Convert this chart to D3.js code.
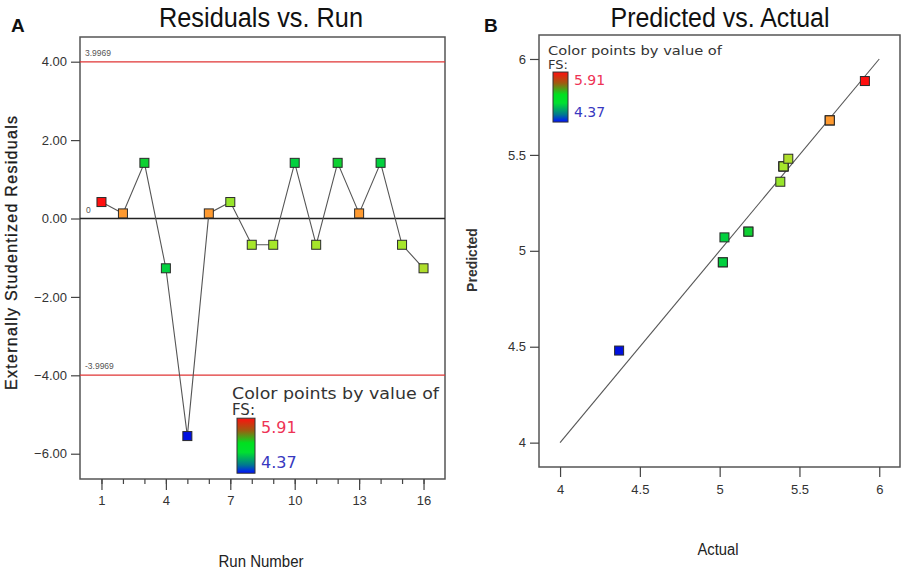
<!DOCTYPE html>
<html>
<head>
<meta charset="utf-8">
<script src="https://cdn.jsdelivr.net/npm/d3@7"></script>
<style>
  body { margin: 0; background: #fff; }
  svg { display: block; font-family: "Liberation Sans", Arial, sans-serif; }
  .tick text { fill: #333; font-size: 13px; }
  .axis path { display: none; }
  .axis line { stroke: #444; stroke-width: 1.2; }
  .legend text { font-family: "DejaVu Sans", Verdana, sans-serif; }
</style>
</head>
<body>
<svg id="chart" width="906" height="573"></svg>
<script>
// Data
const runs       = [1, 2, 3, 4, 5, 6, 7, 8, 9, 10, 11, 12, 13, 14, 15, 16];
const residuals  = [0.42, 0.13, 1.42, -1.27, -5.55, 0.13, 0.42, -0.67, -0.67, 1.42, -0.67, 1.42, 0.13, 1.42, -0.67, -1.27];
const actual     = [5.91, 5.69, 5.18, 5.03, 4.37, 5.69, 5.38, 5.40, 5.40, 5.02, 5.40, 5.18, 5.69, 5.02, 5.40, 5.43];
const predicted  = [5.885, 5.68, 5.10, 5.07, 4.48, 5.68, 5.36, 5.44, 5.44, 4.94, 5.44, 5.10, 5.68, 4.94, 5.44, 5.48];
const limitValue = 3.9969;
const runTicks   = [1, 4, 7, 10, 13, 16];
const residTicks = [4, 2, 0, -2, -4, -6];
const avTicks    = [4, 4.5, 5, 5.5, 6];
const fsRange    = [4.37, 5.91];

const svg = d3.select('#chart');
const narrow = '"Liberation Sans Narrow", "Arial Narrow", sans-serif';

// Colour of a point by FS value
const colorScale = d3.scaleLinear()
    .domain([4.37, 5.0, 5.2, 5.4, 5.69, 5.91])
    .range(['#0010e0', '#00d040', '#10d030', '#a6e62a', '#ff9a30', '#ff1010']);

// Legend gradient
const defs = svg.append('defs');
const grad = defs.append('linearGradient')
    .attr('id', 'fsgrad').attr('x1', 0).attr('y1', 0).attr('x2', 0).attr('y2', 1);
[[0, '#ff1010'], [0.22, '#a05a10'], [0.45, '#00e020'], [0.62, '#00e030'], [0.85, '#007890'], [1, '#0010ff']]
    .forEach(s => grad.append('stop').attr('offset', s[0]).attr('stop-color', s[1]));

function drawLegend(parent, x, y, fontSize, textW, barW, barH, numSize) {
    const g = parent.append('g').attr('class', 'legend');
    g.append('text').attr('x', x).attr('y', y)
        .attr('font-size', fontSize).attr('fill', '#333')
        .attr('textLength', textW).attr('lengthAdjust', 'spacingAndGlyphs')
        .text('Color points by value of');
    g.append('text').attr('x', x).attr('y', y + fontSize * 1.08)
        .attr('font-size', fontSize).attr('fill', '#333')
        .text('FS:');
    const bx = x + 5, by = y + fontSize * 1.08 + 3;
    g.append('rect').attr('x', bx).attr('y', by).attr('width', barW).attr('height', barH)
        .attr('fill', 'url(#fsgrad)').attr('stroke', '#333').attr('stroke-width', 1);
    g.append('text').attr('x', bx + barW + 6).attr('y', by + numSize * 0.9)
        .attr('font-size', numSize).attr('fill', '#ee3355')
        .text(fsRange[1].toFixed(2));
    g.append('text').attr('x', bx + barW + 6).attr('y', by + barH - 5)
        .attr('font-size', numSize).attr('fill', '#3838c0')
        .text(fsRange[0].toFixed(2));
}

function drawMarkers(g, data, xs, ys, size) {
    g.selectAll('rect.pt')
        .data(data)
        .join('rect')
        .attr('class', 'pt')
        .attr('x', d => xs(d.x) - size / 2)
        .attr('y', d => ys(d.y) - size / 2)
        .attr('width', size).attr('height', size)
        .attr('fill', d => colorScale(d.fs))
        .attr('stroke', '#2a2a2a').attr('stroke-width', 1);
}

/*----- Panel A : Residuals vs. Run -----*/
const gA = svg.append('g');
const xA = d3.scaleLinear().domain([0, 17]).range([80, 445]);
const yA = d3.scaleLinear().domain([-6.645, 4.63]).range([479, 37]);

gA.append('rect').attr('x', 80).attr('y', 37).attr('width', 365).attr('height', 442)
    .attr('fill', 'none').attr('stroke', '#555').attr('stroke-width', 1.5);

gA.append('g').attr('class', 'axis').attr('transform', 'translate(0,479)')
    .call(d3.axisBottom(xA).tickValues(runs).tickSize(5).tickFormat(''));
gA.append('g').attr('class', 'axis').attr('transform', 'translate(0,479)')
    .call(d3.axisBottom(xA).tickValues(runTicks).tickSize(11).tickPadding(6).tickFormat(d3.format('d')));
gA.append('g').attr('class', 'axis').attr('transform', 'translate(80,0)')
    .call(d3.axisLeft(yA).tickValues(residTicks).tickSize(9).tickPadding(4).tickFormat(d3.format('.2f')));

// Limit lines and zero line
[limitValue, -limitValue].forEach(v => {
    gA.append('line').attr('x1', 80).attr('x2', 445).attr('y1', yA(v)).attr('y2', yA(v))
        .attr('stroke', '#e03535').attr('stroke-width', 1.3);
    gA.append('text').attr('x', 85).attr('y', yA(v) - 6).attr('font-size', 8.5).attr('fill', '#555')
        .text(v.toFixed(4));
});
gA.append('line').attr('x1', 80).attr('x2', 445).attr('y1', yA(0)).attr('y2', yA(0))
    .attr('stroke', '#222').attr('stroke-width', 1.3);
gA.append('text').attr('x', 86).attr('y', yA(0) - 6).attr('font-size', 8.5).attr('fill', '#555').text('0');

const dataA = runs.map((r, i) => ({ x: r, y: residuals[i], fs: actual[i] }));
gA.append('path').datum(dataA)
    .attr('d', d3.line().x(d => xA(d.x)).y(d => yA(d.y)))
    .attr('fill', 'none').attr('stroke', '#555').attr('stroke-width', 1.1);
drawMarkers(gA, dataA, xA, yA, 9);

drawLegend(gA, 232, 399, 15, 207, 18, 55, 16);

gA.append('text').attr('x', 261).attr('y', 27).attr('text-anchor', 'middle')
    .attr('font-family', narrow).attr('textLength', 204).attr('lengthAdjust', 'spacingAndGlyphs')
    .attr('font-size', 27).attr('fill', '#111').text('Residuals vs. Run');
gA.append('text').attr('x', 11).attr('y', 32).attr('font-size', 19).attr('font-weight', 'bold')
    .attr('fill', '#111').text('A');
gA.append('text').attr('x', 261).attr('y', 567).attr('text-anchor', 'middle')
    .attr('font-family', narrow).attr('textLength', 85).attr('lengthAdjust', 'spacingAndGlyphs')
    .attr('font-size', 16).attr('fill', '#222').text('Run Number');
gA.append('text').attr('transform', 'translate(17,253) rotate(-90)').attr('text-anchor', 'middle')
    .attr('font-size', 16).attr('fill', '#1a1a1a').attr('stroke', '#1a1a1a').attr('stroke-width', 0.3)
    .attr('textLength', 274).attr('lengthAdjust', 'spacing')
    .text('Externally Studentized Residuals');

/*----- Panel B : Predicted vs. Actual -----*/
const gB = svg.append('g');
const xB = d3.scaleLinear().domain([3.868, 6.13]).range([539, 900]);
const yB = d3.scaleLinear().domain([3.873, 6.125]).range([467, 35]);

gB.append('rect').attr('x', 539).attr('y', 35).attr('width', 361).attr('height', 432)
    .attr('fill', 'none').attr('stroke', '#555').attr('stroke-width', 1.5);

gB.append('g').attr('class', 'axis').attr('transform', 'translate(0,467)')
    .call(d3.axisBottom(xB).tickValues(avTicks).tickSize(10).tickPadding(8).tickFormat(d3.format('')));
gB.append('g').attr('class', 'axis').attr('transform', 'translate(539,0)')
    .call(d3.axisLeft(yB).tickValues(avTicks).tickSize(9).tickPadding(4).tickFormat(d3.format('')));

// 45-degree reference line
gB.append('line')
    .attr('x1', xB(4)).attr('y1', yB(4)).attr('x2', xB(6)).attr('y2', yB(6))
    .attr('stroke', '#555').attr('stroke-width', 1.1);

const dataB = actual.map((a, i) => ({ x: a, y: predicted[i], fs: a }));
drawMarkers(gB, dataB, xB, yB, 9);

drawLegend(gB, 548, 55, 13, 174, 15, 50, 14);

gB.append('text').attr('x', 720).attr('y', 27).attr('text-anchor', 'middle')
    .attr('font-family', narrow).attr('textLength', 219).attr('lengthAdjust', 'spacingAndGlyphs')
    .attr('font-size', 27).attr('fill', '#111').text('Predicted vs. Actual');
gB.append('text').attr('x', 484).attr('y', 32).attr('font-size', 19).attr('font-weight', 'bold')
    .attr('fill', '#111').text('B');
gB.append('text').attr('x', 718).attr('y', 555).attr('text-anchor', 'middle')
    .attr('font-family', narrow).attr('textLength', 41).attr('lengthAdjust', 'spacingAndGlyphs')
    .attr('font-size', 16).attr('fill', '#222').text('Actual');
gB.append('text').attr('transform', 'translate(477,260) rotate(-90)').attr('text-anchor', 'middle')
    .attr('font-size', 14).attr('font-weight', 'bold').attr('fill', '#333')
    .text('Predicted');
</script>
</body>
</html>
